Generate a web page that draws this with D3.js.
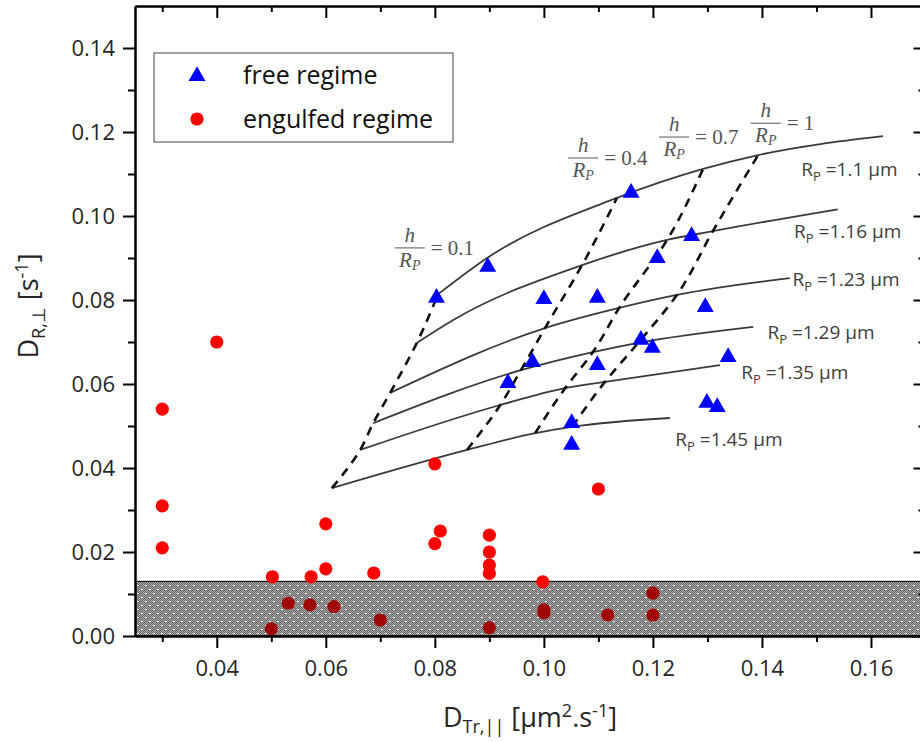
<!DOCTYPE html>
<html><head><meta charset="utf-8">
<script src="https://cdn.jsdelivr.net/npm/d3@7"></script>
<style>body{margin:0;background:#fff;} svg{display:block}</style>
</head><body><svg id="c" width="920" height="742"></svg>
<script>
// ---------------- DATA ----------------
const xMajorTicks = [0.04, 0.06, 0.08, 0.10, 0.12, 0.14, 0.16];
const xMinorTicks = [0.03, 0.05, 0.07, 0.09, 0.11, 0.13, 0.15];
const yMajorTicks = [0.00, 0.02, 0.04, 0.06, 0.08, 0.10, 0.12, 0.14];
const yMinorTicks = [0.01, 0.03, 0.05, 0.07, 0.09, 0.11, 0.13];

// free regime (blue triangles)
const freeX = [0.0803, 0.0897, 0.0934, 0.0979, 0.1000, 0.1051, 0.1051, 0.1098, 0.1098, 0.1160, 0.1178, 0.1199, 0.1208, 0.1271, 0.1296, 0.1338, 0.1299, 0.1318];
const freeY = [0.0805, 0.0879, 0.0602, 0.0652, 0.0802, 0.0507, 0.0455, 0.0805, 0.0645, 0.1055, 0.0705, 0.0686, 0.0900, 0.0952, 0.0783, 0.0664, 0.0555, 0.0545];

// engulfed regime (red circles)
const engX = [0.030, 0.030, 0.030, 0.040, 0.0502, 0.050, 0.0531, 0.0573, 0.0571, 0.060, 0.060, 0.0615, 0.0688, 0.070, 0.080, 0.080, 0.081, 0.090, 0.090, 0.090, 0.090, 0.090, 0.0998, 0.100, 0.100, 0.110, 0.1117, 0.120, 0.120];
const engY = [0.054, 0.031, 0.021, 0.070, 0.0141, 0.0017, 0.0078, 0.0141, 0.0074, 0.0267, 0.016, 0.0070, 0.0150, 0.0038, 0.041, 0.022, 0.025, 0.024, 0.020, 0.0169, 0.0149, 0.0020, 0.0129, 0.0062, 0.0055, 0.035, 0.0050, 0.0102, 0.0050];

// model grid: curves of constant R_P, nodes at constant h/R_P
const rpValues = ["1.1", "1.16", "1.23", "1.29", "1.35", "1.45"];
const hrValues = ["0.1", "0.4", "0.7", "1"];
const gridX = [
  [0.0806, 0.1134, 0.1292, 0.1393],
  [0.0767, 0.1070, 0.1226, 0.1310],
  [0.0718, 0.1002, 0.1138, 0.1244],
  [0.0687, 0.0958, 0.1090, 0.1173],
  [0.0663, 0.0920, 0.1039, 0.1112],
  [0.0611, 0.0859, 0.0984, 0.1052]
];
const gridY = [
  [0.0814, 0.1043, 0.1112, 0.1145],
  [0.0698, 0.0883, 0.0943, 0.0964],
  [0.0579, 0.0733, 0.0781, 0.0812],
  [0.0507, 0.0633, 0.0676, 0.0698],
  [0.0443, 0.0550, 0.0590, 0.0605],
  [0.0352, 0.0443, 0.0483, 0.0498]
];
const midX = [0.0898, 0.0833, null, null, null, null];
const midY = [0.0902, 0.0752, null, null, null, null];
const endX = [0.1622, 0.1539, 0.1451, 0.1384, 0.1323, 0.1231];
const endY = [0.1190, 0.1016, 0.0852, 0.0736, 0.0645, 0.0519];

const shadeTop = 0.013;
const legendLabels = ["free regime", "engulfed regime"];

// ---------------- LAYOUT ----------------
const svg = d3.select("#c");
const x = d3.scaleLinear().domain([0.025, 0.17]).range([135, 925.5]);
const y = d3.scaleLinear().domain([0, 0.15]).range([636, 6]);
const FONT = "'Open Sans', 'Noto Sans', sans-serif";

// pattern for shaded band
const defs = svg.append("defs");
const pat = defs.append("pattern").attr("id", "dots").attr("patternUnits", "userSpaceOnUse")
  .attr("width", 8).attr("height", 8);
pat.append("rect").attr("width", 8).attr("height", 8).attr("fill", "#aaaaaa");
for (let i = 0; i < 8; i++) for (let j = 0; j < 8; j++) {
  if ((i + j) % 2 === 0) pat.append("rect").attr("x", i).attr("y", j).attr("width", 1).attr("height", 1).attr("fill", "#666666");
}
[[1, 1], [2, 1], [5, 5], [6, 5]].forEach(([a, b]) => pat.append("rect").attr("x", a).attr("y", b).attr("width", 1).attr("height", 1).attr("fill", "#ffffff"));

defs.append("clipPath").attr("id", "plotclip").append("rect")
  .attr("x", x(0.025)).attr("y", y(0.15)).attr("width", x(0.17) - x(0.025)).attr("height", y(0) - y(0.15));

const plot = svg.append("g").attr("clip-path", "url(#plotclip)");

plot.append("rect").attr("x", x(0.025)).attr("y", y(shadeTop))
  .attr("width", x(0.17) - x(0.025)).attr("height", y(0) - y(shadeTop))
  .attr("fill", "url(#dots)").attr("stroke", "#111").attr("stroke-width", 1.2);

// solid curves
const lineSmooth = d3.line().x(d => x(d[0])).y(d => y(d[1])).curve(d3.curveMonotoneX);
rpValues.forEach((rp, i) => {
  const pts = [[gridX[i][0], gridY[i][0]]];
  if (midX[i] !== null) pts.push([midX[i], midY[i]]);
  for (let k = 1; k < hrValues.length; k++) pts.push([gridX[i][k], gridY[i][k]]);
  pts.push([endX[i], endY[i]]);
  plot.append("path").attr("d", lineSmooth(pts)).attr("fill", "none")
    .attr("stroke", "#3a3a3a").attr("stroke-width", 1.8);
});

// dashed iso h/R lines
const lineDash = d3.line().x(d => x(d[0])).y(d => y(d[1])).curve(d3.curveMonotoneY);
hrValues.forEach((hr, k) => {
  const pts = rpValues.map((rp, i) => [gridX[i][k], gridY[i][k]]);
  plot.append("path").attr("d", lineDash(pts.slice().reverse())).attr("fill", "none")
    .attr("stroke", "#111").attr("stroke-width", 2.6).attr("stroke-dasharray", "9,7");
});

// engulfed points
plot.append("g").selectAll("circle").data(engX.map((v, i) => [v, engY[i]])).join("circle")
  .attr("cx", d => x(d[0])).attr("cy", d => y(d[1])).attr("r", 6.6)
  .attr("fill", d => d[1] < 0.012 ? "#a00808" : "#ff0000");

// free points
const tri = d3.symbol().type(d3.symbolTriangle).size(125);
plot.append("g").selectAll("path").data(freeX.map((v, i) => [v, freeY[i]])).join("path")
  .attr("d", tri).attr("transform", d => `translate(${x(d[0])},${y(d[1])})`)
  .attr("fill", "#0000ff");

// ---------------- AXES ----------------
function styleAxis(g, showText) {
  g.select(".domain").attr("stroke", "#000").attr("stroke-width", 2);
  g.selectAll(".tick line").attr("stroke", "#000").attr("stroke-width", 2);
  g.selectAll(".tick text").attr("font-family", FONT).attr("font-size", 22).attr("fill", "#262626");
  if (!showText) g.selectAll(".tick text").remove();
}
const fmt = d3.format(".2f");
// bottom
const gb = svg.append("g").attr("transform", `translate(0,${y(0)})`)
  .call(d3.axisBottom(x).tickValues(xMajorTicks).tickSize(12).tickSizeOuter(0).tickPadding(12).tickFormat(fmt));
styleAxis(gb, true);
svg.append("g").attr("transform", `translate(0,${y(0)})`)
  .call(d3.axisBottom(x).tickValues(xMinorTicks).tickSize(6).tickSizeOuter(0).tickFormat(""))
  .call(g => styleAxis(g, false));
// left
const gl = svg.append("g").attr("transform", `translate(${x(0.025)},0)`)
  .call(d3.axisLeft(y).tickValues(yMajorTicks).tickSize(12).tickSizeOuter(0).tickPadding(8).tickFormat(fmt));
styleAxis(gl, true);
svg.append("g").attr("transform", `translate(${x(0.025)},0)`)
  .call(d3.axisLeft(y).tickValues(yMinorTicks).tickSize(7).tickSizeOuter(0).tickFormat(""))
  .call(g => styleAxis(g, false));
// top (inward)
svg.append("g").attr("transform", `translate(0,${y(0.15)})`)
  .call(d3.axisTop(x).tickValues(xMajorTicks).tickSize(-12).tickSizeOuter(0).tickFormat(""))
  .call(g => styleAxis(g, false));
svg.append("g").attr("transform", `translate(0,${y(0.15)})`)
  .call(d3.axisTop(x).tickValues(xMinorTicks).tickSize(-6).tickSizeOuter(0).tickFormat(""))
  .call(g => styleAxis(g, false));
// right (inward)
svg.append("g").attr("transform", `translate(${x(0.17)},0)`)
  .call(d3.axisRight(y).tickValues(yMajorTicks).tickSize(-12).tickSizeOuter(0).tickFormat(""))
  .call(g => styleAxis(g, false));
svg.append("g").attr("transform", `translate(${x(0.17)},0)`)
  .call(d3.axisRight(y).tickValues(yMinorTicks).tickSize(-7).tickSizeOuter(0).tickFormat(""))
  .call(g => styleAxis(g, false));

// axis titles
const xt = svg.append("text").attr("x", 530).attr("y", 727).attr("text-anchor", "middle")
  .attr("font-family", FONT).attr("font-size", 27).attr("fill", "#262626");
xt.append("tspan").text("D");
xt.append("tspan").attr("font-size", 18).attr("dy", 6).text("Tr,||");
xt.append("tspan").attr("dy", -6).text(" [μm");
xt.append("tspan").attr("font-size", 18).attr("dy", -10).text("2");
xt.append("tspan").attr("dy", 10).text(".s");
xt.append("tspan").attr("font-size", 18).attr("dy", -10).text("-1");
xt.append("tspan").attr("dy", 10).text("]");

const yt = svg.append("text").attr("transform", "translate(38,306) rotate(-90)").attr("text-anchor", "middle")
  .attr("font-family", FONT).attr("font-size", 27).attr("fill", "#262626");
yt.append("tspan").text("D");
yt.append("tspan").attr("font-size", 18).attr("dy", 7).text("R,⊥");
yt.append("tspan").attr("dy", -7).text(" [s");
yt.append("tspan").attr("font-size", 18).attr("dy", -10).text("-1");
yt.append("tspan").attr("dy", 10).text("]");

// ---------------- ANNOTATIONS ----------------
const rpLabelPos = [[0.1472, 0.1095], [0.1459, 0.0948], [0.1456, 0.0833], [0.1410, 0.0707], [0.1362, 0.0612], [0.1241, 0.0452]];
rpValues.forEach((rp, i) => {
  const t = svg.append("text").attr("x", x(rpLabelPos[i][0])).attr("y", y(rpLabelPos[i][1]))
    .attr("font-family", FONT).attr("font-size", 19).attr("fill", "#404040");
  t.append("tspan").text("R");
  t.append("tspan").attr("font-size", 13).attr("dy", 5).text("P");
  t.append("tspan").attr("dy", -5).text(" =" + rp + " μm");
});

const hrLabelPos = [[0.0754, 0.0924], [0.1072, 0.1138], [0.1239, 0.1188], [0.1407, 0.1221]];
hrValues.forEach((hr, k) => {
  const g = svg.append("g").attr("transform", `translate(${x(hrLabelPos[k][0])},${y(hrLabelPos[k][1])})`)
    .attr("fill", "#555").attr("font-family", "'Liberation Serif', serif").attr("font-size", 21);
  g.append("text").attr("text-anchor", "middle").attr("y", -6).attr("font-style", "italic").text("h");
  g.append("line").attr("x1", -15).attr("x2", 15).attr("stroke", "#555").attr("stroke-width", 1);
  const r = g.append("text").attr("text-anchor", "middle").attr("y", 19).attr("font-style", "italic");
  r.append("tspan").text("R");
  r.append("tspan").attr("font-size", 14).attr("dy", 3).text("P");
  g.append("text").attr("x", 21).attr("y", 7).text("= " + hr);
});

// ---------------- LEGEND ----------------
const lg = svg.append("g");
lg.append("rect").attr("x", 154).attr("y", 53).attr("width", 299).attr("height", 89)
  .attr("fill", "#fff").attr("stroke", "#444").attr("stroke-width", 1);
lg.append("path").attr("d", tri).attr("transform", "translate(197,76)").attr("fill", "#0000ff");
lg.append("circle").attr("cx", 197).attr("cy", 119).attr("r", 6.6).attr("fill", "#ff0000");
legendLabels.forEach((l, i) => {
  lg.append("text").attr("x", 243).attr("y", 84 + i * 44).attr("font-family", FONT)
    .attr("font-size", 25).attr("fill", "#111").text(l);
});
</script></body></html>
